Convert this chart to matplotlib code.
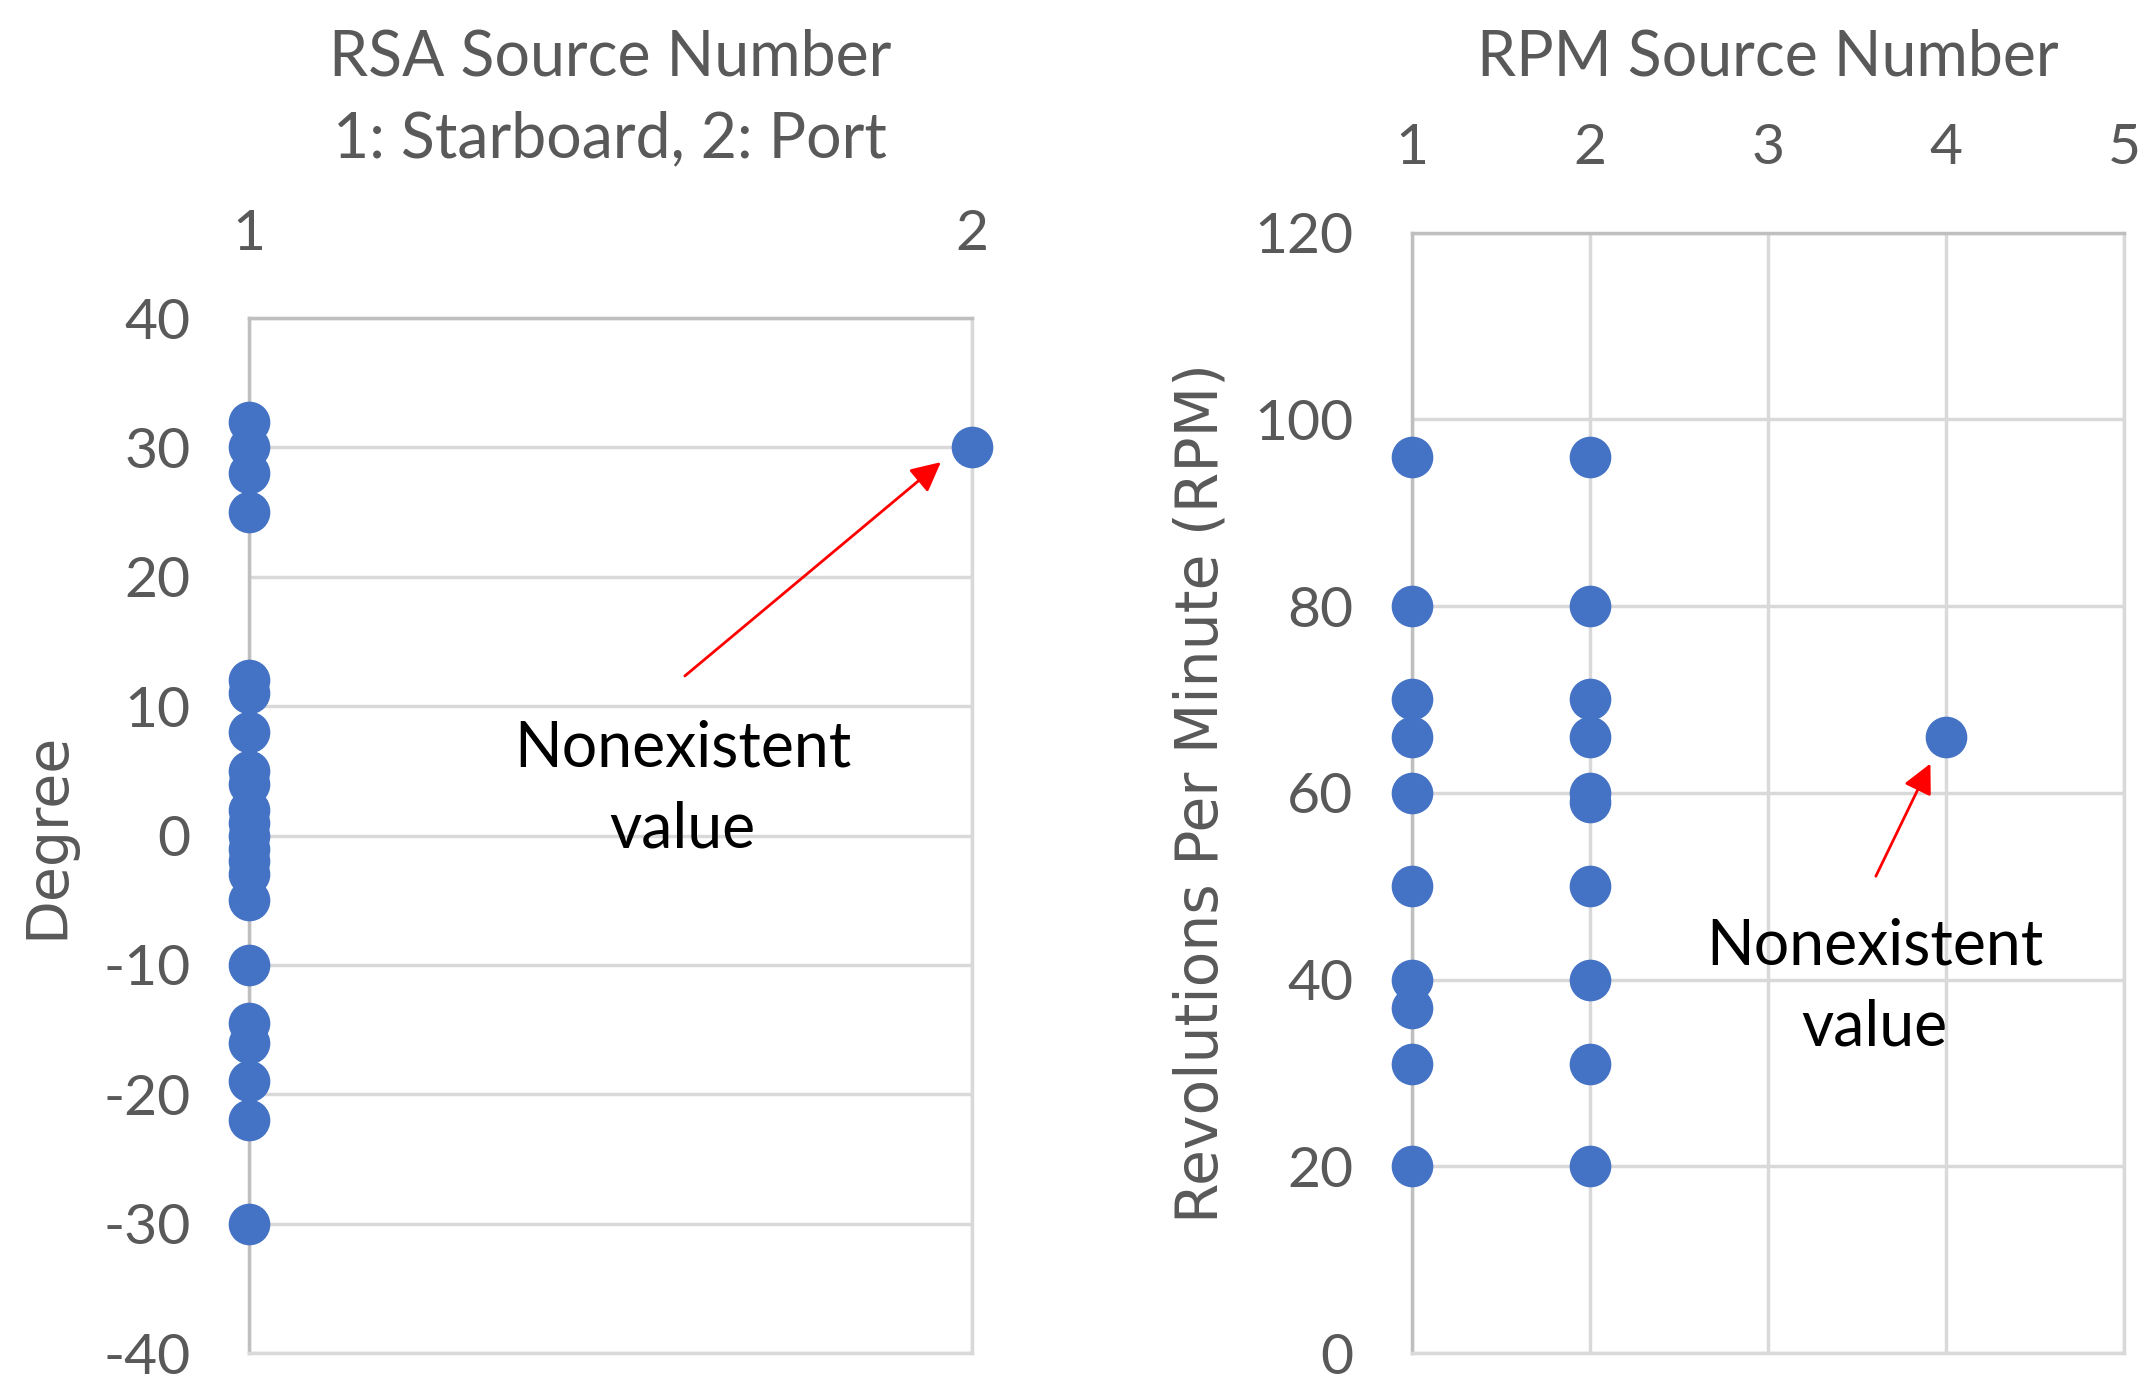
"""
Scatter of RSA / RPM source numbers
"""
import numpy as np
import matplotlib.pyplot as plt

plt.rcParams['axes.unicode_minus'] = False

# left chart: rudder angle by source
v_rsa_src = [1]*22 + [2]
v_rsa_deg = [32, 30, 28, 25, 12, 11, 8, 5, 4, 2, 1, 0, -1, -2, -3, -5,
             -10, -14.5, -16, -19, -22, -30] + [30]

# right chart: RPM by source
v_rpm_src = [1]*10 + [2]*10 + [4]
v_rpm_val = [96, 80, 70, 66, 60, 50, 40, 37, 31, 20] + \
            [96, 80, 70, 66, 60, 59, 50, 40, 31, 20] + [66]

c_blue = '#4472C4'
c_tick = '#595959'
c_grid = '#d9d9d9'
c_spine = '#bfbfbf'

fig = plt.figure(figsize=(21.55, 13.84), dpi=100)
ax1 = fig.add_axes([0.1155, 0.0223, 0.3355, 0.7479])
ax2 = fig.add_axes([0.6550, 0.0223, 0.3306, 0.8097])

def style_axis(ax):
    ax.xaxis.tick_top()
    ax.xaxis.set_label_position('top')
    ax.tick_params(length=0, labelsize=41, labelcolor=c_tick)
    ax.tick_params(axis='x', pad=42)
    ax.tick_params(axis='y', pad=42)
    ax.grid(True, color=c_grid, linewidth=2.5, zorder=0)
    ax.set_axisbelow(True)
    for lbl in ax.get_xticklabels() + ax.get_yticklabels():
        lbl.set_fontfamily('Lato')
    for side in ['right', 'bottom']:
        ax.spines[side].set_color(c_grid)
        ax.spines[side].set_linewidth(2.5)
    for side in ['left', 'top']:
        ax.spines[side].set_color(c_spine)
        ax.spines[side].set_linewidth(2.5)

ax1.scatter(v_rsa_src, v_rsa_deg, s=840, color=c_blue, zorder=3, clip_on=False)
ax1.set_xlim(1, 2)
ax1.set_ylim(-40, 40)
ax1.set_xticks([1, 2])
ax1.set_yticks(np.arange(-40, 41, 10))
ax1.xaxis.grid(False)
style_axis(ax1)
ax1.set_xlabel('RSA Source Number\n1: Starboard, 2: Port', fontsize=45,
               fontfamily='Lato', color=c_tick, labelpad=37, linespacing=1.5)
ax1.set_ylabel('Degree', fontsize=41, color=c_tick, va='center')
ax1.yaxis.set_label_coords(-0.278, 0.5)
ax1.annotate('', xy=(1.96, 29), xytext=(1.60, 12.2),
             arrowprops=dict(arrowstyle='-|>', color='red', lw=2, mutation_scale=45))
ax1.text(1.60, 3.6, 'Nonexistent\nvalue', fontsize=45, fontfamily='Lato',
         ha='center', va='center', linespacing=1.5)

ax2.scatter(v_rpm_src, v_rpm_val, s=840, color=c_blue, zorder=3, clip_on=False)
ax2.set_xlim(1, 5)
ax2.set_ylim(0, 120)
ax2.set_xticks([1, 2, 3, 4, 5])
ax2.set_yticks(np.arange(0, 121, 20))
style_axis(ax2)
ax2.set_xlabel('RPM Source Number', fontsize=45, fontfamily='Lato',
               color=c_tick, labelpad=34)
ax2.set_ylabel('Revolutions Per Minute (RPM)', fontsize=42, color=c_tick, va='center')
ax2.yaxis.set_label_coords(-0.296, 0.5)
ax2.annotate('', xy=(3.92, 63.4), xytext=(3.60, 50.8),
             arrowprops=dict(arrowstyle='-|>', color='red', lw=2, mutation_scale=45))
ax2.text(3.60, 39.2, 'Nonexistent\nvalue', fontsize=45, fontfamily='Lato',
         ha='center', va='center', linespacing=1.5)

fig.savefig('out.png', dpi=100)
